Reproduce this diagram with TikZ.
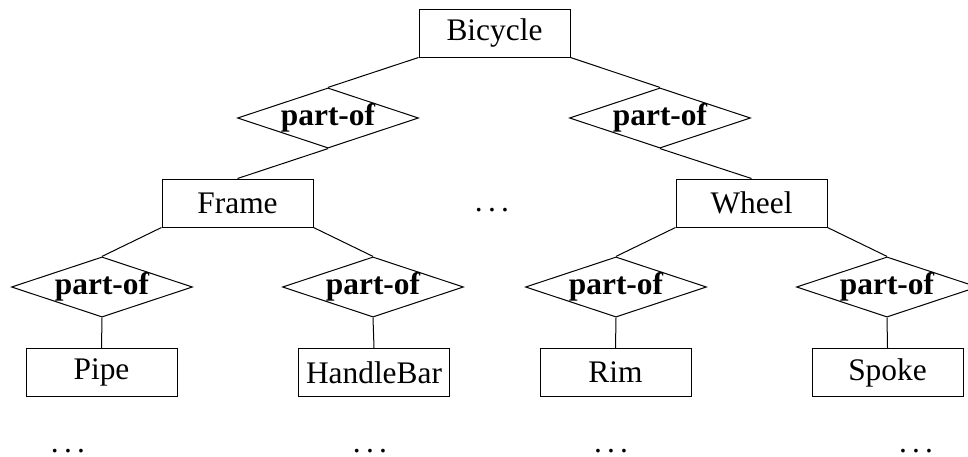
\documentclass[tikz,border=0pt]{standalone}
\usepackage{fontspec}
\setmainfont{Liberation Serif}
\usetikzlibrary{shapes.geometric}
\newcommand{\mydots}{.\kern.1667em.\kern.1667em.}
\begin{document}
\begin{tikzpicture}[x=0.5pt,y=-0.5pt,
  every node/.style={font=\fontsize{15.7pt}{18pt}\selectfont},
  entity/.style={draw,line width=0.5pt,rectangle,minimum width=75.5pt,minimum height=24pt,inner sep=0pt},
  rel/.style={draw,line width=0.5pt,diamond,minimum width=90.5pt,minimum height=30pt,inner sep=0pt,aspect=3,font=\fontsize{15.7pt}{18pt}\selectfont\bfseries},
  conn/.style={line width=0.5pt},
  dotsnode/.style={anchor=base,inner sep=0pt}]
\useasboundingbox (0,0) rectangle (968,456);
\node[entity] (bicycle) at (494.5,33) {Bicycle};
\node[rel] (r1) at (328,118) {part-of};
\node[rel] (r2) at (660,118) {part-of};
\node[entity] (frame) at (237.5,203) {Frame};
\node[entity] (wheel) at (751.5,203) {Wheel};
\node[dotsnode] (mdots) at (492,211.5) {\mydots};
\node[rel] (r3) at (102,287) {part-of};
\node[rel] (r4) at (373,287) {part-of};
\node[rel] (r5) at (616,287) {part-of};
\node[rel] (r6) at (887,287) {part-of};
\node[entity] (pipe) at (101.5,372.5) {Pipe};
\node[entity] (handlebar) at (374,372.5) {HandleBar};
\node[entity] (rim) at (615.5,372.5) {Rim};
\node[entity] (spoke) at (887.5,372.5) {Spoke};
\node[dotsnode] (d1) at (68,452) {\mydots};
\node[dotsnode] (d2) at (370,452) {\mydots};
\node[dotsnode] (d3) at (611,452) {\mydots};
\node[dotsnode] (d4) at (916,452) {\mydots};
\draw[conn] (bicycle.south west) -- (r1.north);
\draw[conn] (bicycle.south east) -- (r2.north);
\draw[conn] (r1.south) -- (frame.north);
\draw[conn] (r2.south) -- (wheel.north);
\draw[conn] (frame.south west) -- (r3.north);
\draw[conn] (frame.south east) -- (r4.north);
\draw[conn] (wheel.south west) -- (r5.north);
\draw[conn] (wheel.south east) -- (r6.north);
\draw[conn] (r3.south) -- (pipe.north);
\draw[conn] (r4.south) -- (handlebar.north);
\draw[conn] (r5.south) -- (rim.north);
\draw[conn] (r6.south) -- (spoke.north);
\end{tikzpicture}
\end{document}
